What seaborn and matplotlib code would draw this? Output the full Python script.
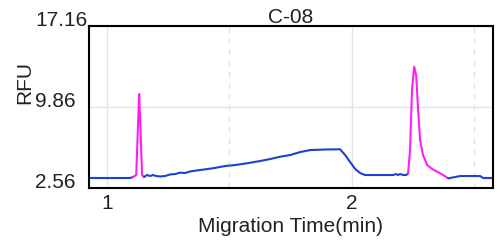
import matplotlib
matplotlib.use("Agg")
import matplotlib.pyplot as plt
import seaborn as sns
from matplotlib.ticker import FixedLocator

# Trace (time in min, signal in RFU)
base1_t = [0.926, 1.094, 1.106]
base1_y = [3.46, 3.46, 3.55]

peak1_t = [1.106, 1.119, 1.127, 1.131, 1.135, 1.143, 1.151]
peak1_y = [3.55, 3.73, 8.69, 11.03, 8.69, 3.73, 3.55]

base2_t = [1.151, 1.163, 1.176, 1.188, 1.200, 1.217, 1.237, 1.257, 1.278, 1.298,
           1.319, 1.339, 1.380, 1.433, 1.482, 1.523, 1.572, 1.625, 1.666, 1.707,
           1.748, 1.789, 1.830, 1.891, 1.952, 1.973, 1.993, 2.014, 2.034, 2.054,
           2.116, 2.169, 2.181, 2.189, 2.197, 2.210, 2.222, 2.230]
base2_y = [3.55, 3.73, 3.64, 3.73, 3.64, 3.60, 3.64, 3.78, 3.82, 3.94,
           3.91, 4.05, 4.18, 4.34, 4.54, 4.63, 4.79, 4.99, 5.17, 5.38,
           5.53, 5.80, 5.98, 6.03, 6.05, 5.53, 4.90, 4.27, 3.91, 3.73,
           3.73, 3.73, 3.82, 3.73, 3.82, 3.73, 3.73, 3.88]

peak2_t = [2.230, 2.238, 2.246, 2.255, 2.263, 2.271, 2.279, 2.291, 2.308, 2.328,
           2.349, 2.373, 2.394]
peak2_y = [3.88, 5.98, 11.39, 13.49, 12.74, 9.59, 6.89, 5.53, 4.63, 4.27,
           4.03, 3.73, 3.43]

base3_t = [2.394, 2.422, 2.443, 2.524, 2.537, 2.577]
base3_y = [3.43, 3.55, 3.64, 3.64, 3.46, 3.46]

y_ticks = [2.56, 9.86, 17.16]
y_tick_labels = ["2.56", "9.86", "17.16"]
x_ticks = [1, 2]
x_minor = [1.5, 2.5]

BLUE = "#1e3fd8"
MAGENTA = "#ff1ef0"

sns.set_style("white")
plt.rcParams["font.family"] = ["Liberation Sans", "DejaVu Sans"]

fig = plt.figure(figsize=(5.04, 2.44), dpi=100)
ax = fig.add_axes([89 / 504, 1 - 188 / 244, 404 / 504, 162 / 244])

for t, y, c in [(base1_t, base1_y, BLUE), (peak1_t, peak1_y, MAGENTA),
                (base2_t, base2_y, BLUE), (peak2_t, peak2_y, MAGENTA),
                (base3_t, base3_y, BLUE)]:
    sns.lineplot(x=t, y=y, color=c, linewidth=1.5, ax=ax)

ax.set_xlim(0.926, 2.577)
ax.set_ylim(2.56, 17.16)

ax.xaxis.set_major_locator(FixedLocator(x_ticks))
ax.xaxis.set_minor_locator(FixedLocator(x_minor))
ax.set_xticklabels([str(v) for v in x_ticks])
ax.set_yticks(y_ticks)
ax.set_yticklabels(y_tick_labels)

ax.grid(True, which="major", color="#e4e4e4", linewidth=1, linestyle="-")
ax.grid(True, which="minor", axis="x", color="#e4e4e4", linewidth=1, linestyle=(0, (4, 4)))
ax.set_axisbelow(True)

ax.tick_params(axis="both", which="both", length=0, labelsize=15, colors="#222222")
ax.tick_params(axis="y", pad=54 * 0.72)
ax.tick_params(axis="x", pad=4)
for lbl in ax.get_yticklabels():
    lbl.set_horizontalalignment("left")
    lbl.set_verticalalignment("baseline")

for sp in ax.spines.values():
    sp.set_visible(True)
    sp.set_color("black")
    sp.set_linewidth(1.5)

ax.set_title("C-08", fontsize=15, color="#222222", pad=2)
ax.set_xlabel("Migration Time(min)", fontsize=15, color="#222222", va="baseline")
ax.xaxis.set_label_coords(0.5, (188 - 232) / 162)
ax.set_ylabel("RFU", fontsize=15, color="#222222", va="center")
ax.yaxis.set_label_coords((25 - 89) / 404, (188 - 83) / 162)

fig.savefig("out.png", dpi=100)
